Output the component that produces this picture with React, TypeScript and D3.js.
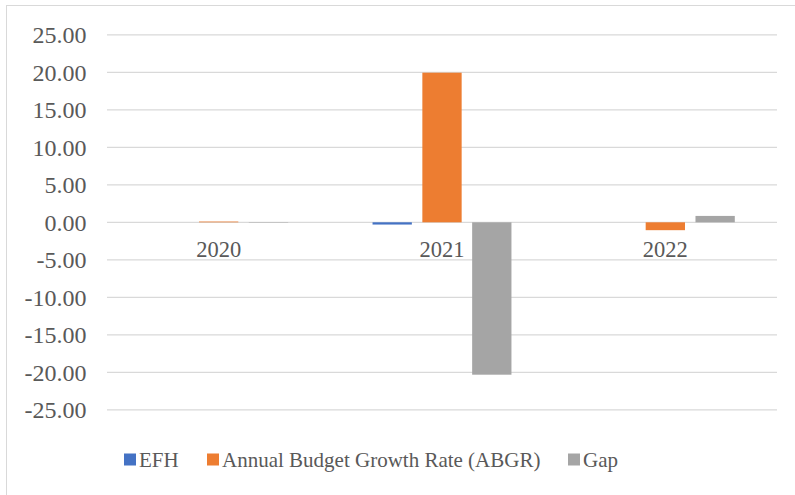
import React from "react";
import * as d3 from "d3";

const categories = ["2020", "2021", "2022"];
const seriesNames = ["EFH", "Annual Budget Growth Rate (ABGR)", "Gap"];
const efh = [0.0, -0.3, 0.0];
const abgr = [0.1, 19.95, -1.05];
const gap = [-0.05, -20.32, 0.85];
const colors = ["#4472C4", "#ED7D31", "#A5A5A5"];
const yTicks = [25, 20, 15, 10, 5, 0, -5, -10, -15, -20, -25];

const W = 795;
const H = 495;
const FONT = '"Liberation Serif", "Times New Roman", serif';
const TEXT = "#595959";

const legendX = [124, 207, 568];

const App = () => {
  const plotLeft = 107;
  const plotRight = 777;

  const y = d3.scaleLinear().domain([-25, 25]).range([409.8, 34.8]);
  const x0 = d3.scaleBand().domain(categories).range([plotLeft, plotRight]);

  const barW = x0.bandwidth() * 0.176;
  const barGap = x0.bandwidth() * 0.047;
  const groupW = barW * 3 + barGap * 2;
  const x1 = d3.scaleBand()
    .domain(seriesNames)
    .range([(x0.bandwidth() - groupW) / 2, (x0.bandwidth() + groupW) / 2])
    .paddingInner(barGap / (barW + barGap));

  const series = [efh, abgr, gap];

  return (
    <svg width={W} height={H} style={{ position: "absolute", left: 0, top: 0, background: "#fff" }}>
      {/* chart area border, right/bottom run off the page */}
      <rect x={6.5} y={5.5} width={W + 10} height={H + 10} fill="#fff" stroke="#d9d9d9" />

      {yTicks.map(t => (
        <line key={"g" + t} x1={plotLeft} x2={plotRight} y1={y(t)} y2={y(t)} stroke="#d9d9d9" strokeWidth={1.3} />
      ))}

      {yTicks.map(t => (
        <text key={"l" + t} x={86.5} y={y(t)} dy="0.35em" textAnchor="end"
          style={{ fontFamily: FONT, fontSize: 24 }} fill={TEXT}>
          {t.toFixed(2)}
        </text>
      ))}

      {categories.map(c => (
        <text key={c} x={(x0(c) as number) + x0.bandwidth() / 2} y={y(0) + 35} textAnchor="middle"
          style={{ fontFamily: FONT, fontSize: 22.5 }} fill={TEXT}>
          {c}
        </text>
      ))}

      {series.map((vals, si) => (
        <g key={seriesNames[si]}>
          {vals.map((v, i) => (
            <rect key={i}
              x={(x0(categories[i]) as number) + (x1(seriesNames[si]) as number)}
              width={x1.bandwidth()}
              y={Math.min(y(v), y(0))}
              height={Math.abs(y(v) - y(0))}
              fill={colors[si]} />
          ))}
        </g>
      ))}

      <g transform="translate(0, 460)">
        {seriesNames.map((name, i) => (
          <g key={name} transform={`translate(${legendX[i]},0)`}>
            <rect x={0} y={-6.5} width={12} height={12} fill={colors[i]} />
            <text x={15} y={0} dy="0.35em" style={{ fontFamily: FONT, fontSize: 21 }} fill={TEXT}>
              {name}
            </text>
          </g>
        ))}
      </g>
    </svg>
  );
};

export default App;
